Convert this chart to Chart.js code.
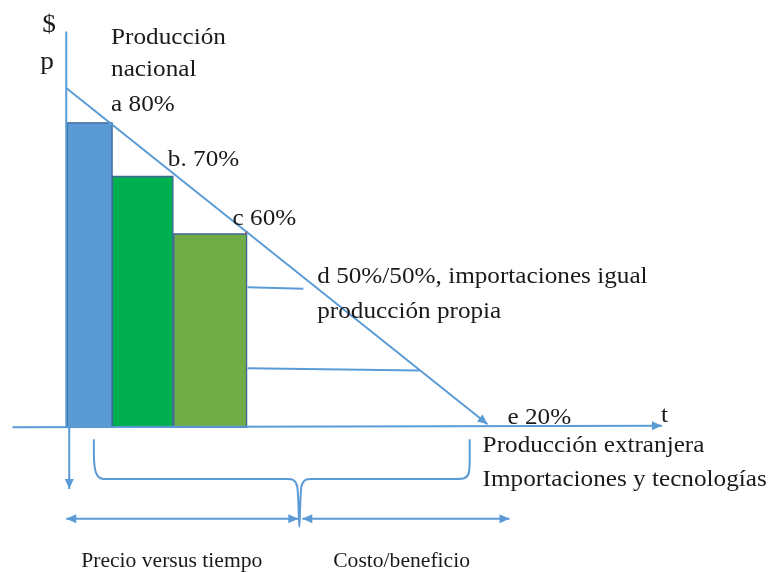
<!DOCTYPE html>
<html>
<head>
<meta charset="utf-8">
<script src="https://cdn.jsdelivr.net/npm/chart.js@4.4.1/dist/chart.umd.min.js"></script>
<style>
  body { margin: 0; background: #fff; }
  canvas { display: block; }
</style>
</head>
<body>
<canvas id="diagram" width="770" height="572"></canvas>
<script>
// t = tiempo (unidades), p = precio (%)
const axisP = 23.33;

// Barras de producción nacional
const barNames = ['a', 'b', 'c'];
const barStart = [0.1, 4.6, 10.8];
const barEnd = [4.6, 10.7, 18.1];
const barValues = [80, 70, 59.3];

// Líneas del diagrama, como pares [t, p]
const priceLine = [[0, 86.5], [42.3, 23.9]];
const levelD = [[18.2, 49.4], [23.8, 49.1]];
const levelLow = [[18.2, 34.3], [35.5, 33.9]];
const axisT = [[-5.4, 23.33], [59.8, 23.6]];
const axisY = [[0, 97.0], [0, 23.33]];
const axisYDown = [[0.3, 23.33], [0.3, 11.85]];
const brace = [
    [2.77, 21.1], [2.8, 17.0], [3.0, 14.8], [3.5, 13.8], [4.5, 13.7],
    [22.0, 13.7], [22.8, 13.52], [23.2, 12.2], [23.4, 4.8], [23.6, 12.2], [24.0, 13.52], [24.8, 13.7],
    [39.0, 13.7], [40.0, 13.89], [40.4, 14.8], [40.5, 17.0], [40.5, 21.1]
];
const spanPrice = [[0, 6.3], [23.3, 6.3]];
const spanCost = [[23.7, 6.3], [44.5, 6.3]];
const cornerMark = [[18.1, 59.6]];

// Textos [texto, t, p]
const axisLabels = [
    ['$', -2.4, 96.9],
    ['p', -2.6, 90.0]
];
const mainLabels = [
    ['Producción', 4.5, 94.6],
    ['nacional', 4.5, 88.7],
    ['a 80%', 4.5, 82.2],
    ['b. 70%', 10.2, 72.0],
    ['c 60%', 16.7, 60.9],
    ['d 50%/50%, importaciones igual', 25.2, 50.2],
    ['producción propia', 25.2, 43.7],
    ['e 20%', 44.3, 23.9],
    ['t', 59.7, 24.4],
    ['Producción extranjera', 41.8, 18.7],
    ['Importaciones y tecnologías', 41.8, 12.4]
];
const captionLabels = [
    ['Precio versus tiempo', 1.5, -2.77],
    ['Costo/beneficio', 26.8, -2.77]
];

const lineBlue = '#5B9BD5';
const barColors = ['#5B9BD5', '#00B050', '#70AD47'];

function lineSet(points, extra) {
    return Object.assign({
        data: points.map(([t, p]) => ({ x: t, y: p })),
        borderColor: lineBlue,
        borderWidth: 2,
        pointRadius: 0,
        pointHoverRadius: 0,
        fill: false,
        tension: 0
    }, extra);
}

const datasets = [
    lineSet(priceLine, { arrows: 'end' }),
    lineSet(axisT, { arrows: 'end' }),
    lineSet(axisY),
    lineSet(axisYDown, { arrows: 'end' }),
    lineSet(levelD),
    lineSet(levelLow),
    lineSet(brace, { tension: 0.3 }),
    lineSet(spanPrice, { arrows: 'both' }),
    lineSet(spanCost, { arrows: 'both' }),
    lineSet(cornerMark, { showLine: false, pointRadius: 1.5, pointBackgroundColor: '#e03030', pointBorderWidth: 0 })
];

barNames.forEach((name, i) => {
    const x0 = barStart[i], x1 = barEnd[i], h = barValues[i];
    datasets.push(lineSet([[x0, axisP], [x0, h], [x1, h], [x1, axisP], [x0, axisP]], {
        label: name,
        borderColor: '#3E6696',
        borderWidth: 1.4,
        backgroundColor: barColors[i],
        fill: 'shape'
    }));
});

// Puntas de flecha al final (o a ambos extremos) de una línea
const arrowHeads = {
    id: 'arrowHeads',
    afterDatasetsDraw(chart) {
        const ctx = chart.ctx;
        chart.data.datasets.forEach((ds, i) => {
            if (!ds.arrows) return;
            const pts = chart.getDatasetMeta(i).data;
            const n = pts.length;
            const heads = [[pts[n - 1], pts[n - 2]]];
            if (ds.arrows === 'both') heads.push([pts[0], pts[1]]);
            heads.forEach(([tip, from]) => {
                const a = Math.atan2(tip.y - from.y, tip.x - from.x);
                const len = 10, half = 4.5;
                ctx.save();
                ctx.translate(tip.x, tip.y);
                ctx.rotate(a);
                ctx.beginPath();
                ctx.moveTo(0, 0);
                ctx.lineTo(-len, -half);
                ctx.lineTo(-len, half);
                ctx.closePath();
                ctx.fillStyle = ds.borderColor;
                ctx.fill();
                ctx.restore();
            });
        });
    }
};

// Textos en coordenadas de datos
const textLabels = {
    id: 'textLabels',
    afterDatasetsDraw(chart) {
        const ctx = chart.ctx;
        const { x, y } = chart.scales;
        const draw = (list, font, stretch) => {
            list.forEach(([text, t, p]) => {
                ctx.save();
                ctx.translate(x.getPixelForValue(t), y.getPixelForValue(p));
                ctx.scale(stretch, 1);
                ctx.font = font;
                ctx.fillStyle = '#1a1a1a';
                ctx.textBaseline = 'alphabetic';
                ctx.fillText(text, 0, 0);
                ctx.restore();
            });
        };
        draw(axisLabels, '26px "Liberation Serif"', 1.05);
        draw(mainLabels, '24px "Liberation Serif"', 1.05);
        draw(captionLabels, '20px "Liberation Serif"', 1.08);
    }
};

new Chart(document.getElementById('diagram'), {
    type: 'line',
    data: { datasets },
    options: {
        responsive: false,
        animation: false,
        layout: { padding: 0 },
        scales: {
            x: { type: 'linear', min: -6.5, max: 70.5, display: false },
            y: { type: 'linear', min: -3.33, max: 102.59, display: false }
        },
        plugins: {
            legend: { display: false },
            tooltip: { enabled: false }
        },
        events: []
    },
    plugins: [arrowHeads, textLabels]
});
</script>
</body>
</html>
